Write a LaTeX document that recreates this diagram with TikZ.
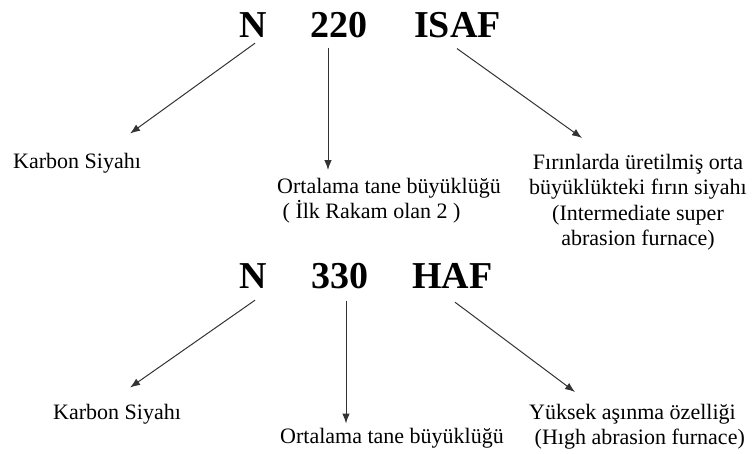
\documentclass[tikz,border=0pt]{standalone}
\usepackage{fontspec}
\setmainfont{Liberation Serif}
\usetikzlibrary{arrows.meta}

\begin{document}
\begin{tikzpicture}[x=1pt, y=-1pt, >={Latex[length=10pt,width=7.5pt]},
		every node/.style={inner sep=2pt, font=\fontsize{22}{25.5}\selectfont},
		code/.style={font=\fontsize{38}{40}\selectfont\bfseries},
		link/.style={->, line width=1pt, draw=black!80}]
				\useasboundingbox (0,0) rectangle (755,453);
				% first code: N 220 ISAF
				\node (nA) at (253.5,37) [code, anchor=base] {N};
				\node (numA) at (338.5,37) [code, anchor=base] {220};
				\node (typeA) at (457.5,37) [code, anchor=base] {ISAF};
				\node (carbA) at (11,168) [anchor=base west] {Karbon Siyahı};
				\node (sizeA) at (275,176) [anchor=north west, align=left] {Ortalama tane büyüklüğü\\\ ( İlk Rakam olan 2 )};
				\node (furnA) at (638,152) [anchor=north, align=center] {Fırınlarda üretilmiş orta\\büyüklükteki fırın siyahı\\(Intermediate super\\abrasion furnace)};
				
				% second code: N 330 HAF
				\node (nB) at (253.5,288) [code, anchor=base] {N};
				\node (numB) at (339.5,288) [code, anchor=base] {330};
				\node (typeB) at (452.5,288) [code, anchor=base] {HAF};
				\node (carbB) at (51,419) [anchor=base west] {Karbon Siyahı};
				\node (sizeB) at (278,443) [anchor=base west] {Ortalama tane büyüklüğü};
				\node (furnB) at (527,402) [anchor=north west, align=left] {Yüksek aşınma özelliği\\\ (Hıgh abrasion furnace)};
				
				\draw[link] ([xshift=1.5pt,yshift=-4pt]nA.south) -- ([xshift=53pt,yshift=17pt]carbA.north);
				\draw[link] ([xshift=-10.5pt,yshift=-8pt]numA.south) -- ([xshift=53pt,yshift=6pt]sizeA.north west);
				\draw[link] ([xshift=-0.5pt,yshift=-9pt]typeA.south) -- ([xshift=-56pt,yshift=14pt]furnA.north);
				\draw[link] ([xshift=1.5pt,yshift=-10pt]nB.south) -- ([xshift=13pt,yshift=14pt]carbB.north);
				\draw[link] ([xshift=6.5pt,yshift=-10pt]numB.south) -- ([xshift=68pt,yshift=2pt]sizeB.north west);
				\draw[link] ([xshift=2.5pt,yshift=-12pt]typeB.south) -- ([xshift=48pt,yshift=10pt]furnB.north west);
			\end{tikzpicture}
\end{document}
